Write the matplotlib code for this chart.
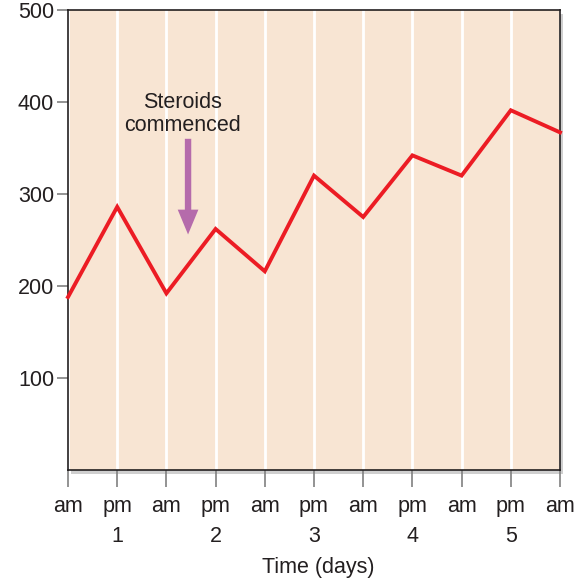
import matplotlib
matplotlib.use("Agg")
import matplotlib.pyplot as plt
from matplotlib.patches import Rectangle, FancyArrow
import numpy as np

plt.rcParams['font.family'] = ['Liberation Sans', 'DejaVu Sans']

tick_labels = ["am", "pm", "am", "pm", "am", "pm", "am", "pm", "am", "pm", "am"]
values = [188, 286, 192, 262, 216, 320, 275, 342, 320, 391, 367]
day_labels = ["1", "2", "3", "4", "5"]
day_positions = [1, 3, 5, 7, 9]
y_ticks = [100, 200, 300, 400, 500]
annotation = "Steroids\ncommenced"

x = np.arange(len(values))
FS = 15.5

fig = plt.figure(figsize=(5.82, 5.83), dpi=100)

# shadow behind the axes
shadow = Rectangle((71/582, 1-474/583), 492/582, 460/583, transform=fig.transFigure,
                   facecolor='#cfcfcf', edgecolor='none', zorder=-5)
fig.patches.append(shadow)

ax = fig.add_axes([68/582, 1-470/583, 492/582, 460/583])
ax.set_zorder(1)

ax.set_facecolor('#F8E5D3')
for xi in x:
    ax.axvline(xi, color='white', lw=2.0, zorder=1)

ax.plot(x, values, color='#EC1C24', lw=2.8, solid_joinstyle='miter', zorder=3, clip_on=False)

ax.set_xlim(0, len(values) - 1)
ax.set_ylim(0, 500)
ax.set_yticks(y_ticks)
ax.set_yticklabels([str(v) for v in y_ticks], fontsize=FS, color='#231f20')
ax.set_xticks(x)
ax.set_xticklabels(tick_labels, fontsize=FS, color='#231f20')
ax.tick_params(axis='y', length=8, width=1.2, color='#808080', pad=2)
ax.tick_params(axis='x', length=12.5, width=1.2, color='#808080', pad=6)

for s in ax.spines.values():
    s.set_color('#231f20')
    s.set_linewidth(1.2)

for d, p in zip(day_labels, day_positions):
    ax.text(p, -0.145, d, transform=ax.get_xaxis_transform(), ha='center', va='center',
            fontsize=FS, color='#231f20')

fig.text(318/582, 1-568/583, "Time (days)", ha='center', va='center', fontsize=FS, color='#231f20')

# annotation
ax.text(2.32, 387, annotation, ha='center', va='center', fontsize=FS, color='#231f20',
        linespacing=1.1)
ax.add_patch(FancyArrow(2.44, 360, 0, -104, width=0.13, head_width=0.42, head_length=27,
                        length_includes_head=True, color='#B56BAB', ec='none', zorder=4))

fig.savefig("out.png", dpi=100, facecolor='white')
